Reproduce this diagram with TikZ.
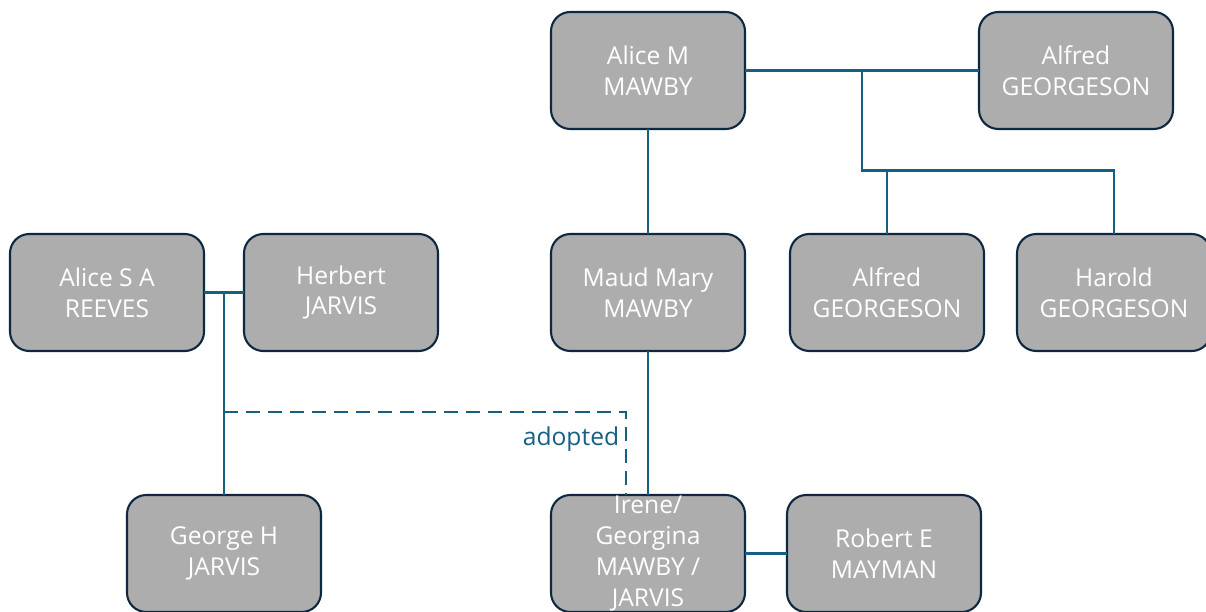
\documentclass[tikz,border=0pt]{standalone}
\usepackage{fontspec}
\setmainfont{Open Sans}
\usetikzlibrary{positioning, calc}
\definecolor{boxfill}{HTML}{ADADAD}
\definecolor{boxline}{HTML}{0E2841}
\definecolor{linkcol}{HTML}{156082}
\tikzset{
  % family tree styles
  person/.style={rectangle, rounded corners=11pt, minimum width=3.88cm, minimum height=2.34cm, outer sep=0pt, text centered, align=center, draw=boxline, line width=1.2pt, fill=boxfill, text=white, font=\fontsize{14}{17.6}\selectfont},
  link/.style={draw=linkcol, line width=1.15pt},
  adopt/.style={link, dash pattern=on 8pt off 4.5pt},
}
\begin{document}
\begin{tikzpicture}[node distance=2.1cm and 4.68cm]
    \useasboundingbox (0,0) rectangle (24.12,-12.24);

    % Mawby / Georgeson side
    \node[person] (aliceM) at (12.96,-1.41) {Alice M\\MAWBY};
    \node[person, right=4.68cm of aliceM] (alfredSr) {Alfred\\GEORGESON};
    \node[person, below=2.1cm of aliceM] (maud) {Maud Mary\\MAWBY};
    \node[person, right=0.9cm of maud] (alfredJr) {Alfred\\GEORGESON};
    \node[person, right=0.66cm of alfredJr] (harold) {Harold\\GEORGESON};
    \node[person, below=2.88cm of maud, inner ysep=0pt] (irene) {Irene/\\Georgina\\MAWBY /\\JARVIS};
    \node[person, right=0.84cm of irene] (robert) {Robert E\\MAYMAN};

    % Jarvis side
    \node[person, left=2.26cm of maud] (herbert) {Herbert\\JARVIS};
    \node[person, left=0.8cm of herbert] (aliceS) {Alice S A\\REEVES};
    \coordinate (jarvisJ) at ($(aliceS.east)!0.5!(herbert.west)$);
    \node[person] (george) at (jarvisJ |- irene) {George H\\JARVIS};

    % === Links ===
    \coordinate (mawbyJ) at ($(aliceM.east)!0.5!(alfredSr.west)$);
    \coordinate (kidsJ) at ($(mawbyJ)+(0,-2)$);
    \draw[link] (aliceM) -- (alfredSr);
    \draw[link] (mawbyJ) -- (kidsJ) -| (harold.north);
    \draw[link] (alfredJr.north) -- (alfredJr |- kidsJ);
    \draw[link] (aliceM) -- (maud);
    \draw[link] (maud) -- (irene);
    \draw[link] (irene) -- (robert);
    \draw[link] (aliceS) -- (herbert);
    \draw[link] (jarvisJ) -- (george);

    % Adoption
    \coordinate (adoptEnd) at ([xshift=-0.44cm]irene.north);
    \coordinate (adoptBend) at ($(adoptEnd)+(0,1.66)$);
    \draw[adopt] (jarvisJ |- adoptBend) -- (adoptBend) node[anchor=north east, yshift=-0.15cm, text=linkcol, font=\fontsize{14}{17.6}\selectfont] (adoptLbl) {adopted} -- (adoptEnd);
  \end{tikzpicture}
\end{document}
